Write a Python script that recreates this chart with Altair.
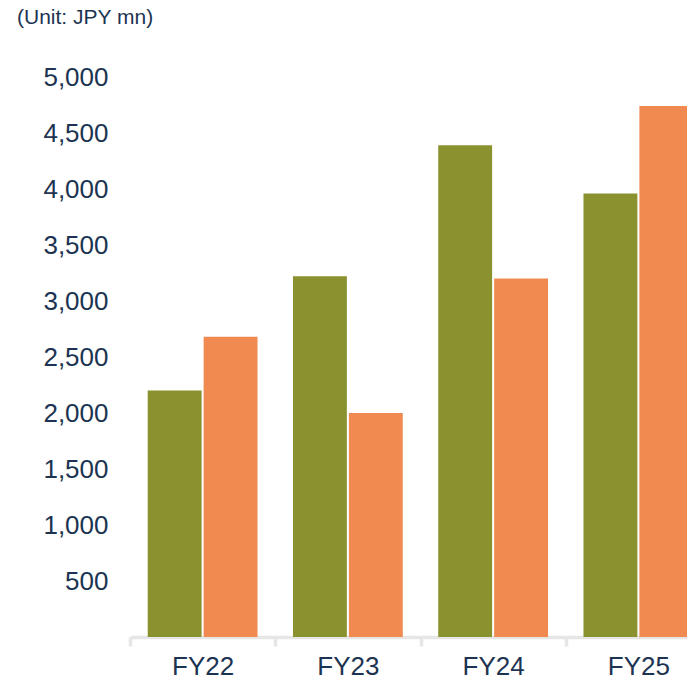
import altair as alt
import pandas as pd

years = ["FY22", "FY23", "FY24", "FY25"]
series = ["Series 1", "Series 2"]
series1_vals = [2200, 3220, 4390, 3960]
series2_vals = [2680, 2000, 3200, 4740]
y_ticks = [500, 1000, 1500, 2000, 2500, 3000, 3500, 4000, 4500, 5000]
colors = ["#89922E", "#F08A50"]

rows = []
for i, yr in enumerate(years):
    rows.append({"year": yr, "series": series[0], "value": series1_vals[i]})
    rows.append({"year": yr, "series": series[1], "value": series2_vals[i]})
df = pd.DataFrame(rows)

label_color = "#1C3452"
font = "Liberation Sans"

chart = alt.Chart(df).mark_bar(clip=True).encode(
    x=alt.X("year:N", sort=years,
            scale=alt.Scale(domain=years, range=[0, 581], paddingInner=0, paddingOuter=0),
            axis=alt.Axis(title=None, labelAngle=0, tickBand="extent", grid=False,
                          domainColor="#E6E6E6", domainWidth=3.5, tickColor="#E6E6E6",
                          tickWidth=3.5, tickSize=9, labelPadding=7,
                          labelFontSize=26, labelColor=label_color, labelFont=font)),
    xOffset=alt.XOffset("series:N", sort=series,
                        scale=alt.Scale(paddingInner=0.036, paddingOuter=0.317)),
    y=alt.Y("value:Q",
            scale=alt.Scale(domain=[0, 5000], nice=False),
            axis=alt.Axis(title=None, values=y_ticks, format=",.0f", grid=False,
                          domain=False, ticks=False, labelPadding=22,
                          labelFontSize=26, labelColor=label_color, labelFont=font)),
    color=alt.Color("series:N", sort=series,
                    scale=alt.Scale(domain=series, range=colors), legend=None),
).properties(
    width=557,
    height=560,
    autosize=alt.AutoSizeParams(type="none"),
    padding={"left": 130, "top": 77, "right": 0, "bottom": 46},
    title=alt.TitleParams("(Unit: JPY mn)", anchor="start", frame="group",
                          dx=-113, offset=36, fontSize=21, fontWeight="normal",
                          color=label_color, font=font),
).configure_view(stroke=None)

chart.save("out.html", embed_options={"renderer": "svg", "actions": False})
